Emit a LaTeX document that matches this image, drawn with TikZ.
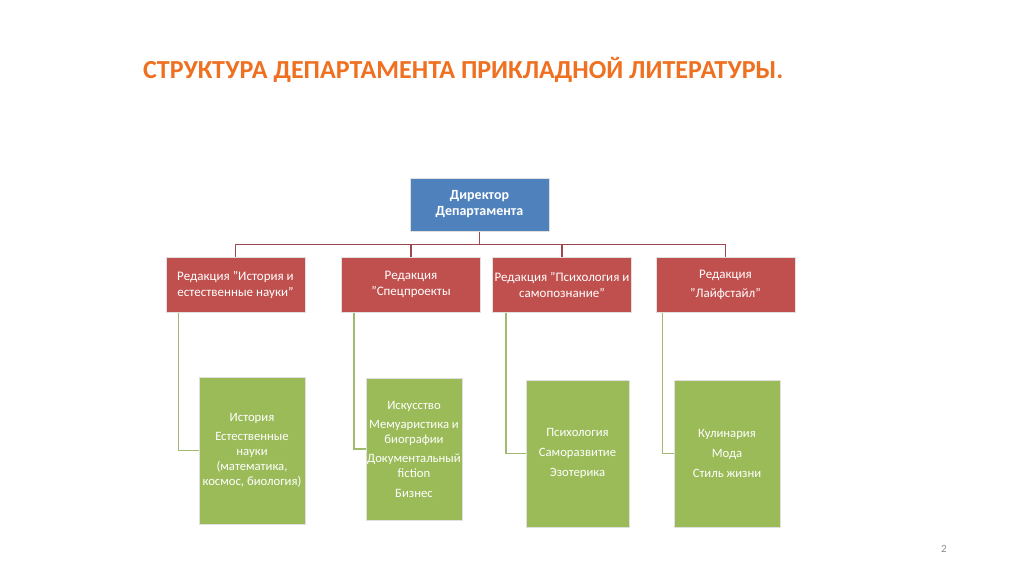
\documentclass[tikz,border=0pt]{standalone}
\usepackage{fontspec}
\setmainfont{Carlito}
\definecolor{titleorange}{RGB}{238,112,32}
\definecolor{dirblue}{RGB}{79,129,189}
\definecolor{edred}{RGB}{192,80,77}
\definecolor{topicgreen}{RGB}{155,187,89}
\definecolor{redline}{RGB}{160,72,82}
\definecolor{greenline}{RGB}{160,187,112}
\tikzset{
  box/.style={draw=black!12, line width=1pt, text=white, align=center, inner sep=0pt},
  dirbox/.style={box, fill=dirblue, minimum width=139, minimum height=53, font=\fontsize{14}{16}\selectfont\bfseries},
  edbox/.style={box, fill=edred, minimum width=139, minimum height=55, font=\fontsize{13}{16}\selectfont},
  topicbox/.style={box, fill=topicgreen, font=\fontsize{12.7}{15}\selectfont},
  redlink/.style={draw=redline, line width=1.6pt},
  greenlink/.style={draw=greenline, line width=1.8pt}
}
\begin{document}
\begin{tikzpicture}[x=1pt, y=-1pt]
    \useasboundingbox[fill=white] (0,0) rectangle (1024,574);

    % Title
    \node[anchor=base west, inner sep=0, text=titleorange, font=\fontsize{26}{30}\selectfont\bfseries] (title) at (143,78)
        {СТРУКТУРА ДЕПАРТАМЕНТА ПРИКЛАДНОЙ ЛИТЕРАТУРЫ.};

    % Director
    \node[dirbox] (dir) at (479.5,204.5) {Директор\\Департамента};

    % Editorial offices
    \node[edbox] (ed1) at (235.5,284.5) {Редакция "История и\\естественные науки"};
    \node[edbox] (ed2) at (411,284.5) {Редакция\\"Спецпроекты};
    \node[edbox] (ed3) at (562,284.5) {Редакция "Психология и\\самопознание"};
    \node[edbox] (ed4) at (725.5,284.5) {Редакция\\[3pt]"Лайфстайл"};

    % Topics
    \node[topicbox, minimum width=106, minimum height=147] (top1) at (252,450.5)
        {История\\[4pt]Естественные\\науки\\(математика,\\космос, биология)};
    \node[topicbox, minimum width=96, minimum height=142] (top2) at (414,449)
        {Искусство\\[4pt]Мемуаристика и\\биографии\\[4pt]Документальный\\fiction\\[5pt]Бизнес};
    \node[topicbox, minimum width=103, minimum height=147] (top3) at (577.5,453.5)
        {Психология\\[5pt]Саморазвитие\\[5pt]Эзотерика};
    \node[topicbox, minimum width=106, minimum height=147] (top4) at (727,453.5)
        {Кулинария\\[5pt]Мода\\[5pt]Стиль жизни};

    % Director to offices
    \draw[redlink] (dir.south) -- ++(0,13) coordinate (bus);
    \foreach \e in {ed1,ed2,ed3,ed4}
        \draw[redlink] (bus) -| (\e.north);

    % Offices to topics
    \draw[greenlink] ([xshift=13]ed1.south west) |- (top1.west);
    \draw[greenlink] ([xshift=13]ed2.south west) |- (top2.west);
    \draw[greenlink] ([xshift=14]ed3.south west) |- (top3.west);
    \draw[greenlink] ([xshift=7]ed4.south west) |- (top4.west);

    % Page number
    \node[text=black!45, font=\fontsize{11}{12}\selectfont] (page) at (944,549) {2};
\end{tikzpicture}
\end{document}
